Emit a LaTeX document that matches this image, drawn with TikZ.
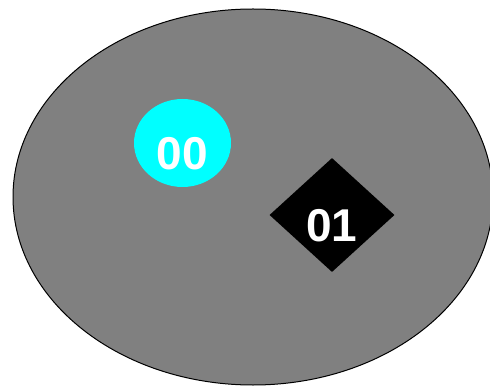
\documentclass[tikz,border=0pt]{standalone}
\usepackage{fontspec}
\setmainfont{Liberation Sans}[BoldFont={Liberation Sans Bold}]
\usetikzlibrary{shapes.geometric}
\definecolor{field}{HTML}{808080}
\definecolor{cyanfill}{HTML}{00FFFF}

\begin{document}
\begin{tikzpicture}[x=1pt, y=1pt,
    every node/.style={font=\fontsize{46}{46}\selectfont\bfseries, text=white,
      inner sep=0pt, text height=54pt, text depth=0pt}]
    % Frame
    \useasboundingbox (0,0) rectangle (490,386);
    \clip (0,0) rectangle (490,386);
    % Background ellipse
    \draw[fill=field, line width=1pt] (253,189) ellipse [x radius=240, y radius=188];
    % Nodes
    \node[ellipse, fill=cyanfill, minimum width=97pt, minimum height=88pt] (n00) at (182.5,243) {00};
    \node[diamond, fill=black, minimum width=125pt, minimum height=114pt] (n01) at (332,171) {01};
\end{tikzpicture}
\end{document}
